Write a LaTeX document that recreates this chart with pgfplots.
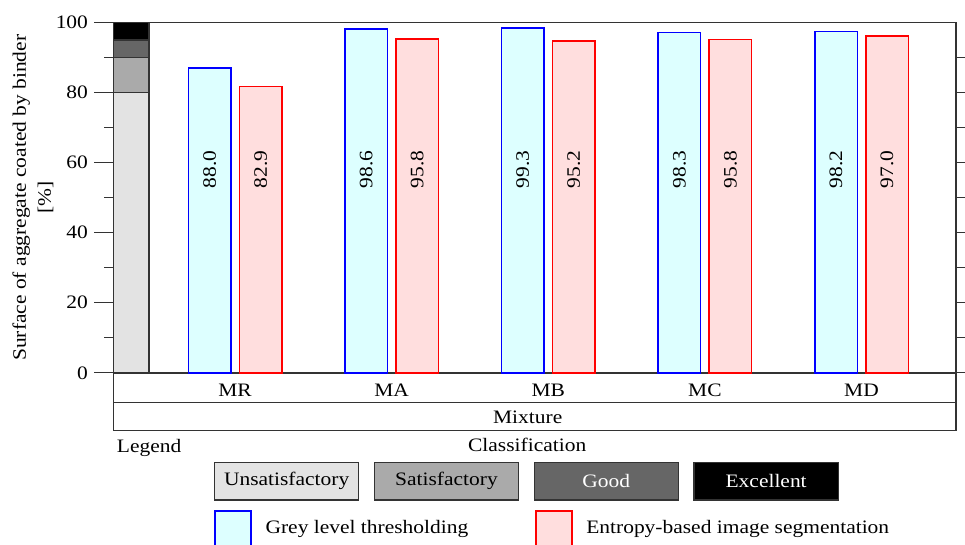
\documentclass[border=0pt]{standalone}
\usepackage{fontspec}
\setmainfont{Liberation Serif}[FakeStretch=1.13]
\usepackage{pgfplots}
\pgfplotsset{compat=1.18}
\definecolor{barblue}{HTML}{0000FF}
\definecolor{fillblue}{HTML}{DDFFFF}
\definecolor{barred}{HTML}{FF0000}
\definecolor{fillred}{HTML}{FFDEDE}
\definecolor{clsA}{HTML}{E3E3E3}
\definecolor{clsB}{HTML}{AAAAAA}
\definecolor{clsC}{HTML}{666666}
\definecolor{clsD}{HTML}{000000}
\definecolor{frame}{HTML}{333333}
\begin{document}
\fontsize{19bp}{23bp}\selectfont
\begin{tikzpicture}[font=\fontsize{19bp}{23bp}\selectfont]
\useasboundingbox (0,0) rectangle (965bp,545bp);
\begin{axis}[
  name=main,
  at={(113.5bp,172.2bp)}, anchor=south west,
  x=156.6bp, y=3.503bp,
  xmin=-0.7765, xmax=4.6035, ymin=0, ymax=100,
  clip=false,
  axis line style={frame, line width=1.5bp},
  xtick={0,1,2,3,4}, xticklabels={MR,MA,MB,MC,MD},
  xtick style={draw=none},
  xticklabel style={anchor=base, yshift=-4.5bp},
  ytick={0,20,...,100}, minor ytick={10,30,...,90},
  ytick pos=left, tick align=outside,
  major tick length=19bp, minor tick length=9bp,
  ytick style={frame, line width=1.3bp},
  minor tick style={frame, line width=1.3bp},
  yticklabel style={anchor=east},
  /pgf/number format/assume math mode=true,
  ylabel={Surface of aggregate coated by binder\\{[\%]}},
  ylabel style={align=center, font=\fontsize{19bp}{25bp}\selectfont, at={(axis description cs:-0.0955,0.5)}, anchor=center},
  legend style={at={(axis description cs:0.11988,-0.39167)}, anchor=north west,
    draw=none, fill=none, inner sep=0pt, outer sep=0pt,
    /tikz/every odd column/.append style={column sep=13.6bp},
    nodes={inner sep=0pt}},
  legend columns=2,
  legend cell align=left,
]
% classification column
\addplot[forget plot, fill=clsA, draw=frame, line width=1.3bp] coordinates {(-0.7765,0) (-0.5492,0) (-0.5492,80) (-0.7765,80)} -- cycle;
\addplot[forget plot, fill=clsB, draw=frame, line width=1.3bp] coordinates {(-0.7765,80) (-0.5492,80) (-0.5492,90) (-0.7765,90)} -- cycle;
\addplot[forget plot, fill=clsC, draw=frame, line width=1.3bp] coordinates {(-0.7765,90) (-0.5492,90) (-0.5492,95) (-0.7765,95)} -- cycle;
\addplot[forget plot, fill=clsD, draw=frame, line width=1.3bp] coordinates {(-0.7765,95) (-0.5492,95) (-0.5492,100) (-0.7765,100)} -- cycle;
% bars
\addplot[ybar, bar width=42.5bp, bar shift=-25.5bp, draw=barblue, fill=fillblue, line width=1.5bp,
  legend image code/.code={\draw[draw=barblue, fill=fillblue, line width=1.5bp] (0bp,-22bp) rectangle (36bp,18bp);}]
  coordinates {(0,87.0) (1,98.1) (2,98.5) (3,97.2) (4,97.5)};
\addlegendentry{\makebox[269.6bp][l]{Grey level thresholding}}
\addplot[ybar, bar width=42.5bp, bar shift=25.5bp, draw=barred, fill=fillred, line width=1.5bp,
  legend image code/.code={\draw[draw=barred, fill=fillred, line width=1.5bp] (0bp,-22bp) rectangle (36bp,18bp);}]
  coordinates {(0,81.7) (1,95.3) (2,94.7) (3,95.1) (4,96.2)};
\addlegendentry{Entropy-based image segmentation}
% value labels
\addplot[forget plot, only marks, mark=*, mark size=0pt, mark options={draw=none, fill=none},
  nodes near coords, point meta=explicit symbolic,
  every node near coord/.append style={rotate=90, anchor=center, inner sep=0pt}]
  coordinates {(-0.1628,58)[88.0] (0.8372,58)[98.6] (1.8372,58)[99.3] (2.8372,58)[98.3] (3.8372,58)[98.2]
               (0.1628,58)[82.9] (1.1628,58)[95.8] (2.1628,58)[95.2] (3.1628,58)[95.8] (4.1628,58)[97.0]};
\end{axis}
\begin{axis}[
  at={(113.5bp,172.2bp)}, anchor=south west,
  x=156.6bp, y=3.503bp,
  xmin=-0.7765, xmax=4.6035, ymin=0, ymax=100,
  axis x line=none, axis y line*=right,
  ytick={0,10,...,90}, yticklabels={},
  tick align=outside, major tick length=9bp,
  ytick style={frame, line width=1.3bp},
  axis line style={frame, line width=1.5bp},
]
\end{axis}
% table rows below axis
\draw[frame, line width=1.3bp] (113.5bp,142.7bp) -- (956bp,142.7bp);
\draw[frame, line width=1.5bp] (113.5bp,172.2bp) -- (113.5bp,114.3bp) -- (956bp,114.3bp) -- (956bp,172.2bp);
\node[anchor=base] at (527.7bp,121.7bp) {Mixture};
\node[anchor=base west, inner sep=0pt] at (116.7bp,92.3bp) {Legend};
\node[anchor=base] at (527.2bp,93.3bp) {Classification};
% classification legend boxes
\begin{scope}[every node/.style={minimum width=144.3bp, minimum height=37.3bp, draw=frame, line width=1.3bp, inner sep=0pt}]
\node[fill=clsA, text=black] at (286.65bp,63.65bp) {Unsatisfactory};
\node[fill=clsB, text=black] at (446.45bp,63.65bp) {Satisfactory};
\node[fill=clsC, text=white] at (606.3bp,63.65bp) {Good};
\node[fill=clsD, text=white] at (766.15bp,63.65bp) {Excellent};
\end{scope}
\end{tikzpicture}
\end{document}
